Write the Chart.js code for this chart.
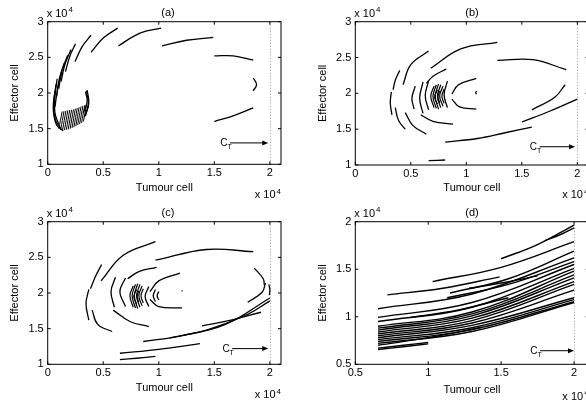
<!DOCTYPE html>
<html>
<head>
<meta charset="utf-8">
<script src="https://cdn.jsdelivr.net/npm/chart.js@4.4.1/dist/chart.umd.min.js"></script>
<style>
  html, body { margin: 0; padding: 0; background: #fff; }
  body { width: 586px; height: 405px; overflow: hidden; position: relative; }
  canvas { position: absolute; }
</style>
</head>
<body>
<canvas id="chartA"></canvas>
<canvas id="chartB"></canvas>
<canvas id="chartC"></canvas>
<canvas id="chartD"></canvas>
<script>
// tick labels
const xTicks = [0, 0.5, 1, 1.5, 2];
const yTicks = [1, 1.5, 2, 2.5, 3];
const xTicksD = [0.5, 1, 1.5, 2];
const yTicksD = [0.5, 1, 1.5, 2];
const titles = ['(a)', '(b)', '(c)', '(d)'];

// trajectory pieces, [tumour, effector] in units of 1e4
const outerA = [
  [[0.246, 2.44], [0.31, 2.65], [0.39, 2.81]],
  [[0.39, 2.57], [0.50, 2.77], [0.63, 2.91]],
  [[0.636, 2.66], [0.83, 2.84], [1.02, 2.91]],
  [[1.03, 2.66], [1.25, 2.74], [1.49, 2.78]],
  [[1.50, 2.52], [1.67, 2.52], [1.85, 2.46]],
  [[1.85, 2.21], [1.88, 2.12], [1.85, 2.03]],
  [[1.50, 1.60], [1.67, 1.68], [1.85, 1.79]]
];
const innerA = [
  [[0.065, 1.80], [0.09, 2.06], [0.13, 2.30]],
  [[0.08, 1.95], [0.105, 2.20], [0.15, 2.42]],
  [[0.10, 2.06], [0.125, 2.30], [0.18, 2.53]],
  [[0.12, 2.16], [0.155, 2.40], [0.21, 2.61]],
  [[0.16, 2.30], [0.20, 2.52], [0.25, 2.69]],
  [[0.14, 1.47], [0.08, 1.55], [0.05, 1.78], [0.065, 2.02]],
  [[0.12, 1.50], [0.07, 1.62], [0.055, 1.86], [0.075, 2.12]],
  [[0.10, 1.56], [0.065, 1.72], [0.065, 1.95], [0.085, 2.20]],
  [[0.33, 1.66], [0.365, 1.84], [0.35, 2.03]],
  [[0.34, 1.68], [0.37, 1.86], [0.355, 2.04]],
  [[0.32, 1.72], [0.355, 1.88], [0.34, 2.02]]
];
const hatchA = [
  [[0.100, 1.50], [0.130, 1.74]],
  [[0.117, 1.485], [0.147, 1.745]],
  [[0.134, 1.48], [0.164, 1.75]],
  [[0.151, 1.48], [0.181, 1.755]],
  [[0.168, 1.485], [0.198, 1.76]],
  [[0.185, 1.49], [0.215, 1.765]],
  [[0.202, 1.50], [0.232, 1.77]],
  [[0.219, 1.51], [0.249, 1.78]],
  [[0.236, 1.52], [0.266, 1.79]],
  [[0.253, 1.535], [0.283, 1.80]],
  [[0.270, 1.55], [0.300, 1.81]],
  [[0.287, 1.565], [0.317, 1.82]],
  [[0.304, 1.58], [0.334, 1.83]],
  [[0.321, 1.60], [0.351, 1.84]]
];

const outerB = [
  [[0.68, 2.35], [0.95, 2.62], [1.28, 2.71]],
  [[1.28, 2.46], [1.60, 2.47], [1.90, 2.33]],
  [[1.59, 1.77], [1.80, 1.95], [1.89, 2.12]],
  [[0.81, 1.32], [1.10, 1.37], [1.35, 1.45], [1.59, 1.53]],
  [[1.50, 1.60], [1.75, 1.75], [2.00, 1.92]],
  [[0.66, 1.06], [0.81, 1.07]]
];
const ringsB = [
  [[0.40, 2.32], [0.36, 2.18], [0.34, 2.05]],
  [[0.325, 2.02], [0.315, 1.87], [0.33, 1.70]],
  [[0.43, 2.12], [0.50, 2.40], [0.66, 2.59]],
  [[0.36, 1.80], [0.39, 1.62], [0.45, 1.50]],
  [[0.45, 1.73], [0.52, 1.55], [0.64, 1.43]],
  [[0.54, 2.10], [0.51, 1.93], [0.53, 1.78]],
  [[0.59, 1.70], [0.70, 1.61], [0.88, 1.57]],
  [[0.61, 2.16], [0.58, 1.93], [0.61, 1.72]],
  [[0.66, 2.17], [0.63, 1.97], [0.66, 1.77]],
  [[0.64, 2.14], [0.70, 2.24], [0.82, 2.34]],
  [[0.83, 2.17], [0.80, 1.98], [0.83, 1.80]],
  [[0.87, 1.99], [0.93, 2.12], [1.09, 2.21]],
  [[0.87, 1.92], [0.94, 1.81], [1.09, 1.78]],
  [[1.092, 2.03], [1.085, 2.01], [1.092, 1.99]]
];
const clusterB = [
  [[0.71, 2.10], [0.68, 1.96], [0.71, 1.80]],
  [[0.73, 2.12], [0.70, 1.96], [0.73, 1.79]],
  [[0.75, 2.13], [0.72, 1.96], [0.75, 1.78]],
  [[0.77, 2.12], [0.74, 1.96], [0.77, 1.80]],
  [[0.79, 2.10], [0.76, 1.96], [0.79, 1.82]],
  [[0.80, 2.06], [0.78, 1.96], [0.80, 1.86]],
  [[0.74, 2.05], [0.715, 1.95], [0.74, 1.85]],
  [[0.76, 2.03], [0.745, 1.95], [0.76, 1.87]]
];

const outerC = [
  [[0.485, 2.40], [0.43, 2.23], [0.385, 2.06]],
  [[0.37, 2.05], [0.345, 1.85], [0.37, 1.62]],
  [[0.40, 1.76], [0.45, 1.56], [0.58, 1.46]],
  [[0.48, 2.17], [0.68, 2.53], [0.97, 2.72]],
  [[0.97, 2.46], [1.43, 2.61], [1.85, 2.58]],
  [[1.86, 2.35], [1.94, 2.20], [1.95, 2.11]],
  [[1.80, 1.87], [1.93, 2.01], [1.96, 2.14]],
  [[1.99, 2.12], [2.00, 2.05], [1.995, 1.97]],
  [[0.86, 1.32], [1.20, 1.40], [1.60, 1.56], [2.00, 1.93]],
  [[1.10, 1.37], [1.45, 1.49], [1.80, 1.70], [2.00, 1.89]],
  [[1.39, 1.54], [1.65, 1.62], [1.92, 1.73]],
  [[0.65, 1.155], [1.00, 1.21], [1.37, 1.29]],
  [[0.65, 1.065], [0.80, 1.085], [0.97, 1.11]]
];
const ringsC = [
  [[0.61, 2.22], [0.57, 2.02], [0.60, 1.80]],
  [[0.70, 2.21], [0.65, 2.02], [0.70, 1.81]],
  [[0.59, 1.76], [0.74, 1.60], [0.91, 1.53]],
  [[0.72, 2.20], [0.82, 2.30], [0.98, 2.36]],
  [[0.91, 2.09], [0.877, 1.95], [0.91, 1.81]],
  [[0.92, 2.02], [1.00, 2.17], [1.19, 2.28]],
  [[0.92, 1.91], [1.00, 1.81], [1.21, 1.79]],
  [[0.97, 2.05], [0.95, 1.96], [0.97, 1.88]],
  [[1.00, 2.02], [0.985, 1.96], [1.00, 1.90]],
  [[1.205, 2.03], [1.215, 2.03]]
];
const clusterC = [
  [[0.77, 2.10], [0.74, 1.96], [0.77, 1.80]],
  [[0.79, 2.12], [0.76, 1.96], [0.79, 1.79]],
  [[0.81, 2.13], [0.78, 1.96], [0.81, 1.78]],
  [[0.83, 2.12], [0.80, 1.96], [0.83, 1.80]],
  [[0.85, 2.10], [0.82, 1.96], [0.85, 1.82]],
  [[0.86, 2.06], [0.84, 1.96], [0.86, 1.86]],
  [[0.80, 2.05], [0.775, 1.95], [0.80, 1.85]],
  [[0.82, 2.03], [0.805, 1.95], [0.82, 1.87]]
];

const curvesD = [
  [[1.50, 1.61], [1.75, 1.76], [2.00, 1.965]],
  [[1.80, 1.80], [1.90, 1.86], [2.00, 1.935]],
  [[1.03, 1.37], [1.50, 1.52], [2.00, 1.79]],
  [[0.72, 1.23], [1.10, 1.30], [1.49, 1.42]],
  [[1.15, 1.25], [1.55, 1.40], [2.00, 1.69]],
  [[1.13, 1.20], [1.55, 1.34], [2.00, 1.58]],
  [[1.28, 1.30], [1.52, 1.36], [1.75, 1.43]],
  [[0.656, 1.085], [1.30, 1.24], [2.00, 1.62]],
  [[0.656, 0.994], [1.30, 1.15], [2.00, 1.55]],
  [[0.656, 0.95], [1.30, 1.10], [2.00, 1.51]],
  [[0.656, 0.90], [1.30, 1.05], [2.00, 1.48]],
  [[0.656, 0.88], [1.30, 1.03], [2.00, 1.44]],
  [[0.656, 0.86], [1.30, 1.01], [2.00, 1.41]],
  [[0.656, 0.84], [1.30, 0.985], [2.00, 1.37]],
  [[0.656, 0.82], [1.30, 0.96], [2.00, 1.34]],
  [[0.656, 0.80], [1.30, 0.935], [2.00, 1.28]],
  [[0.656, 0.78], [1.30, 0.91], [2.00, 1.20]],
  [[0.656, 0.76], [1.30, 0.885], [2.00, 1.18]],
  [[0.656, 0.74], [1.30, 0.865], [2.00, 1.16]],
  [[0.656, 0.72], [1.30, 0.845], [2.00, 1.15]],
  [[0.656, 0.70], [1.00, 0.78], [1.37, 0.89]],
  [[0.656, 0.67], [0.83, 0.70], [1.00, 0.73]],
  [[0.656, 0.655], [0.83, 0.685], [1.00, 0.715]],
  [[0.88, 0.995], [1.20, 1.07], [1.55, 1.20]]
];

const FONT = "'Liberation Sans', Arial, Helvetica, sans-serif";

const panels = [
  { id: 'chartA', left: 0, top: 0, w: 293, h: 200, box: { l: 47.7, r: 281, t: 21.7, b: 164.3 },
    groups: [[outerA, 1.3], [innerA, 1.3], [hatchA, 1]], xRange: [0, 2.1], yRange: [1, 3],
    xt: xTicks, yt: yTicks, title: titles[0], titleX: 168, yTitleX: 15, xTitleY: 188.3, arrow: [1.64, 1.985, 1.30] },
  { id: 'chartB', left: 293, top: 0, w: 300, h: 200, box: { l: 62.3, r: 295.4, t: 21.7, b: 165 },
    groups: [[outerB, 1.3], [ringsB, 1.3], [clusterB, 1.2]], xRange: [0, 2.1], yRange: [1, 3],
    xt: xTicks, yt: yTicks, title: titles[1], titleX: 179, yTitleX: 30, xTitleY: 188.3, arrow: [1.66, 1.98, 1.255] },
  { id: 'chartC', left: 0, top: 200, w: 293, h: 205, box: { l: 47.7, r: 281, t: 21.7, b: 164.3 },
    groups: [[outerC, 1.3], [ringsC, 1.3], [clusterC, 1.2]], xRange: [0, 2.1], yRange: [1, 3],
    xt: xTicks, yt: yTicks, title: titles[2], titleX: 168, yTitleX: 15, xTitleY: 188.3, arrow: [1.66, 1.985, 1.22] },
  { id: 'chartD', left: 293, top: 200, w: 300, h: 205, box: { l: 62.3, r: 295.6, t: 21.7, b: 164.3 },
    groups: [[curvesD, 1.4]], xRange: [0.5, 2.1], yRange: [0.5, 2],
    xt: xTicksD, yt: yTicksD, title: titles[3], titleX: 179, yTitleX: 30, xTitleY: 190, arrow: [1.767, 2.0, 0.643] }
];

function power(ctx, x0, cy, align) {
  ctx.font = '11px ' + FONT;
  const w1 = ctx.measureText('x 10').width;
  ctx.font = '8px ' + FONT;
  const w2 = ctx.measureText('4').width;
  const start = align === 'left' ? x0 : x0 - w1 - w2 - 1;
  ctx.textAlign = 'left';
  ctx.textBaseline = 'middle';
  ctx.font = '11px ' + FONT;
  ctx.fillText('x 10', start, cy);
  ctx.font = '8px ' + FONT;
  ctx.fillText('4', start + w1 + 1, cy - 4);
}

function decor(p) {
  return {
    id: 'decor',
    beforeDatasetsDraw(chart) {
      const { ctx, chartArea: a, scales: { x } } = chart;
      const px = Math.round(x.getPixelForValue(2)) + 0.5;
      ctx.save();
      ctx.strokeStyle = '#999';
      ctx.lineWidth = 1;
      ctx.setLineDash([1, 2]);
      ctx.beginPath();
      ctx.moveTo(px, a.top);
      ctx.lineTo(px, a.bottom);
      ctx.stroke();
      ctx.restore();
    },
    afterDraw(chart) {
      const { ctx, chartArea: a, scales: { x, y } } = chart;
      ctx.save();
      ctx.strokeStyle = '#000';
      ctx.fillStyle = '#000';
      ctx.lineWidth = 1;
      ctx.strokeRect(a.left, a.top, a.right - a.left, a.bottom - a.top);

      // inward ticks on all four sides
      ctx.beginPath();
      p.xt.forEach(v => {
        const px = x.getPixelForValue(v);
        ctx.moveTo(px, a.bottom); ctx.lineTo(px, a.bottom - 3);
        ctx.moveTo(px, a.top); ctx.lineTo(px, a.top + 3);
      });
      p.yt.forEach(v => {
        const py = y.getPixelForValue(v);
        ctx.moveTo(a.left, py); ctx.lineTo(a.left + 3, py);
        ctx.moveTo(a.right, py); ctx.lineTo(a.right - 3, py);
      });
      ctx.stroke();

      ctx.font = '11px ' + FONT;
      ctx.textAlign = 'center';
      ctx.textBaseline = 'middle';
      ctx.fillText(p.title, p.titleX, 13.3);

      power(ctx, a.left - 1, 14, 'left');
      power(ctx, a.right, p.xTitleY + 7, 'right');

      // C_T arrow
      const ax0 = x.getPixelForValue(p.arrow[0]);
      const ax1 = x.getPixelForValue(p.arrow[1]);
      const ay = y.getPixelForValue(p.arrow[2]);
      ctx.beginPath();
      ctx.moveTo(ax0, ay);
      ctx.lineTo(ax1 - 5, ay);
      ctx.stroke();
      ctx.beginPath();
      ctx.moveTo(ax1, ay);
      ctx.lineTo(ax1 - 6, ay - 2.5);
      ctx.lineTo(ax1 - 6, ay + 2.5);
      ctx.closePath();
      ctx.fill();
      ctx.textBaseline = 'alphabetic';
      ctx.font = '10px ' + FONT;
      ctx.textAlign = 'right';
      ctx.fillText('C', ax0 - 2.5, ay + 3);
      ctx.font = '7px ' + FONT;
      ctx.textAlign = 'left';
      ctx.fillText('T', ax0 - 2.5, ay + 6);
      ctx.restore();
    }
  };
}

function makeChart(p) {
  const cv = document.getElementById(p.id);
  cv.width = p.w;
  cv.height = p.h;
  cv.style.left = p.left + 'px';
  cv.style.top = p.top + 'px';

  const datasets = [];
  p.groups.forEach(([segs, width]) => {
    segs.forEach(seg => {
      datasets.push({
        data: seg.map(([x, y]) => ({ x, y })),
        showLine: true,
        borderColor: '#000',
        borderWidth: width,
        pointRadius: 0,
        tension: 0.4,
        fill: false
      });
    });
  });

  const xHeight = p.xTitleY + 6.6 - p.box.b;
  const font = { family: FONT, size: 11 };

  new Chart(cv, {
    type: 'scatter',
    data: { datasets },
    options: {
      responsive: false,
      animation: false,
      events: [],
      layout: { padding: { left: 0, top: p.box.t, right: p.w - p.box.r, bottom: p.h - p.box.b - xHeight } },
      plugins: { legend: { display: false }, tooltip: { enabled: false } },
      scales: {
        x: {
          type: 'linear', min: p.xRange[0], max: p.xRange[1],
          afterBuildTicks: s => { s.ticks = p.xt.map(v => ({ value: v })); },
          afterFit: s => { s.height = xHeight; },
          grid: { display: false, drawTicks: false },
          border: { display: false },
          ticks: { padding: 2.5, color: '#000', font, maxRotation: 0, autoSkip: false, callback: v => String(v) },
          title: { display: true, text: 'Tumour cell', color: '#000', font, padding: 0 }
        },
        y: {
          type: 'linear', min: p.yRange[0], max: p.yRange[1],
          afterBuildTicks: s => { s.ticks = p.yt.map(v => ({ value: v })); },
          afterFit: s => { s.width = p.box.l; },
          grid: { display: false, drawTicks: false },
          border: { display: false },
          ticks: { padding: 4, color: '#000', font, autoSkip: false, callback: v => String(v) },
          title: { display: true, text: 'Effector cell', color: '#000', font, padding: { top: p.yTitleX - 6.6, bottom: 0 } }
        }
      }
    },
    plugins: [decor(p)]
  });
}

panels.forEach(makeChart);
</script>
</body>
</html>
